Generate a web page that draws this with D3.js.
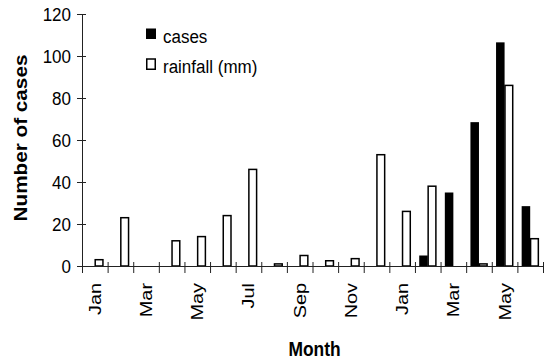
<!DOCTYPE html>
<html>
<head>
<meta charset="utf-8">
<script src="https://cdn.jsdelivr.net/npm/d3@7"></script>
<style>
  html, body { margin: 0; padding: 0; background: #fff; }
  svg { display: block; font-family: "Liberation Sans", Arial, sans-serif; }
</style>
</head>
<body>
<svg id="chart" width="544" height="362"></svg>
<script>
// Monthly series, January of year one through June of year two
const months = ["Jan","Feb","Mar","Apr","May","Jun","Jul","Aug","Sep","Oct","Nov","Dec",
                "Jan","Feb","Mar","Apr","May","Jun"];
const cases    = [0, 0, 0, 0, 0, 0, 0, 0, 0, 0, 0, 0, 0, 5, 35, 68.5, 106.5, 28.5];
const rainfall = [3, 23, 0, 12, 14, 24, 46, 1, 5, 2.5, 3.5, 53, 26, 38, 0, 1, 86, 13];
const yTicks = [0, 20, 40, 60, 80, 100, 120];
const labelMonths = [0, 2, 4, 6, 8, 10, 12, 14, 16];
const seriesKeys = ["cases", "rainfall"];
const legendLabels = ["cases", "rainfall (mm)"];

const svg = d3.select("#chart");
const plotLeft = 82, plotRight = 543, plotTop = 14, plotBottom = 266;

const x = d3.scaleBand().domain(d3.range(months.length)).range([plotLeft, plotRight])
  .paddingInner(0).paddingOuter(0);
const xEdge = d3.scaleLinear().domain([0, months.length]).range([plotLeft, plotRight]);
const sub = d3.scaleBand().domain(seriesKeys).range([0, x.bandwidth()])
  .paddingInner(0).paddingOuter(0.5);
const y = d3.scaleLinear().domain([0, 120]).range([plotBottom, plotTop]);

// Bars
const groups = svg.append("g").selectAll("g")
  .data(months.map((m, i) => ({ i, cases: cases[i], rainfall: rainfall[i] })))
  .join("g")
  .attr("transform", d => `translate(${x(d.i)},0)`);

groups.filter(d => d.cases > 0).append("rect")
  .attr("x", sub("cases"))
  .attr("width", sub.bandwidth())
  .attr("y", d => y(d.cases))
  .attr("height", d => y(0) - y(d.cases))
  .attr("fill", "#000");

groups.filter(d => d.rainfall > 0).append("rect")
  .attr("x", sub("rainfall") + 0.4)
  .attr("width", sub.bandwidth() - 0.8)
  .attr("y", d => y(d.rainfall))
  .attr("height", d => y(0) - y(d.rainfall))
  .attr("fill", "#fff")
  .attr("stroke", "#000")
  .attr("stroke-width", 1.5);

// Y axis
const yAxis = svg.append("g")
  .attr("transform", `translate(${plotLeft},0)`)
  .call(d3.axisLeft(y).tickValues(yTicks).tickSize(5).tickSizeOuter(0));
yAxis.select(".domain").attr("stroke", "#222");
yAxis.selectAll(".tick line").attr("x1", 4).attr("x2", -5).attr("stroke", "#222");
yAxis.selectAll(".tick text")
  .attr("x", -11)
  .attr("dy", "0.36em")
  .attr("transform", "scale(1,1.05)")
  .style("font-size", "17px")
  .style("font-family", "'Liberation Sans', Arial, sans-serif")
  .attr("fill", "#000");

// X axis: tick marks on month boundaries
const xAxis = svg.append("g")
  .attr("transform", `translate(0,${plotBottom})`)
  .call(d3.axisBottom(xEdge).tickValues(d3.range(months.length + 1))
    .tickFormat("").tickSize(7).tickSizeOuter(0));
xAxis.select(".domain").attr("stroke", "#222");
xAxis.selectAll(".tick line").attr("y1", -4).attr("y2", 7).attr("stroke", "#222");

// X axis: month names, every second month, rotated
const xLabels = svg.append("g")
  .attr("transform", `translate(0,${plotBottom})`)
  .call(d3.axisBottom(x).tickValues(labelMonths).tickFormat(i => months[i]).tickSize(0));
xLabels.select(".domain").remove();
xLabels.selectAll(".tick text")
  .attr("x", -14.5)
  .attr("y", 0)
  .attr("dy", "0.35em")
  .attr("text-anchor", "end")
  .attr("transform", "rotate(-90) scale(1.17,1)")
  .style("font-size", "17px")
  .style("font-family", "'Liberation Sans', Arial, sans-serif")
  .attr("fill", "#000");

// Axis titles
svg.append("text")
  .attr("transform", "translate(27,138) rotate(-90) scale(1.12,1)")
  .attr("text-anchor", "middle")
  .style("font-size", "18.5px")
  .style("font-weight", "bold")
  .text("Number of cases");

svg.append("text")
  .attr("transform", "translate(314.5,356) scale(1,1.2)")
  .attr("text-anchor", "middle")
  .style("font-size", "17.4px")
  .style("font-weight", "bold")
  .text("Month");

// Legend
const legend = svg.append("g");
const legendY = [28.5, 59];
const legendTextY = [43.3, 73.3];
legend.append("rect")
  .attr("x", 146).attr("y", legendY[0]).attr("width", 10).attr("height", 10.5)
  .attr("fill", "#000");
legend.append("rect")
  .attr("x", 146.75).attr("y", legendY[1]).attr("width", 8.5).attr("height", 10.25)
  .attr("fill", "#fff").attr("stroke", "#000").attr("stroke-width", 1.5);
legendLabels.forEach((t, i) => {
  legend.append("text")
    .attr("transform", `translate(163,${legendTextY[i]}) scale(1,1.12)`)
    .style("font-size", "17px")
    .text(t);
});
</script>
</body>
</html>
